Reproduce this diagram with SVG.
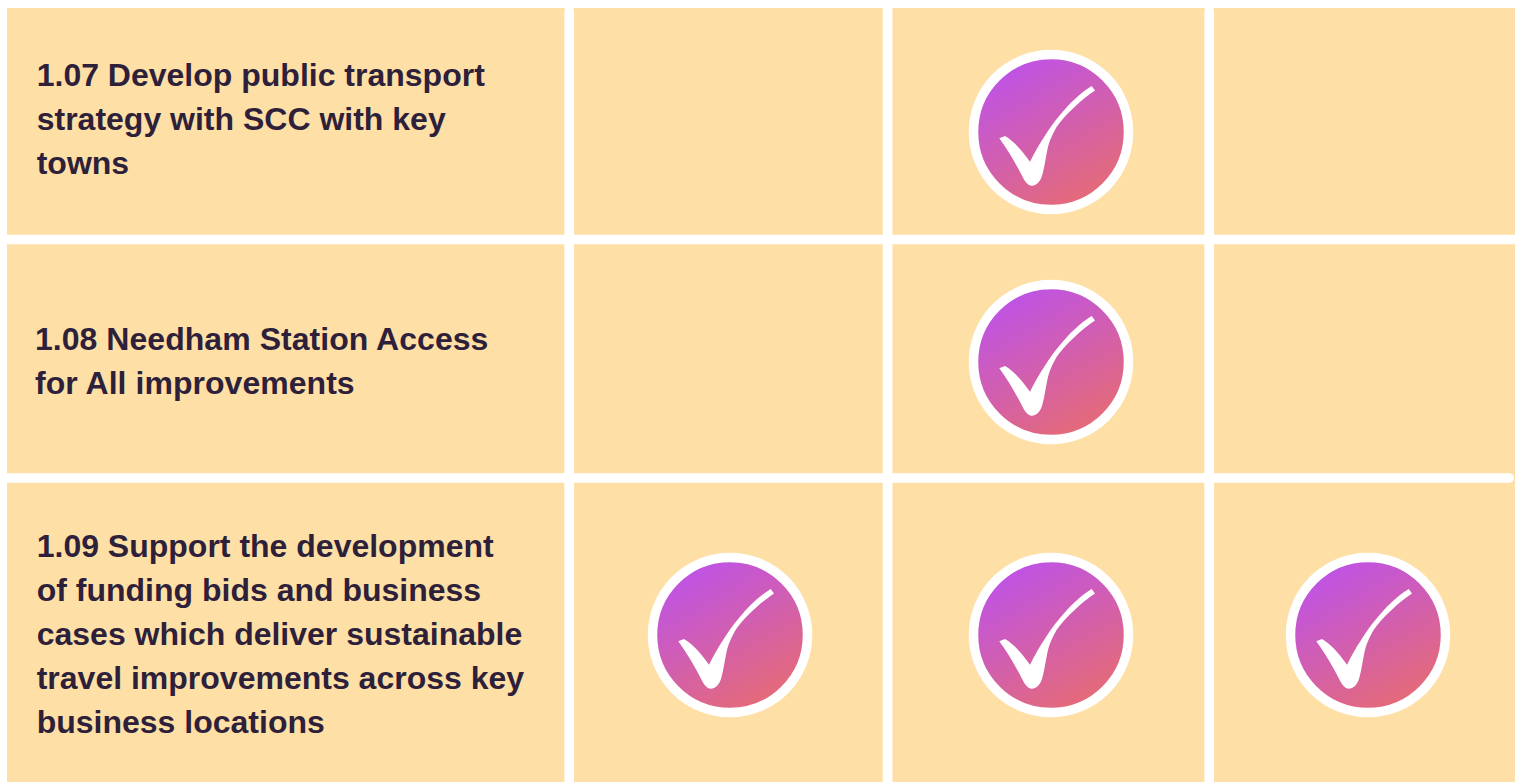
<svg xmlns="http://www.w3.org/2000/svg" width="1518" height="782" viewBox="0 0 1518 782">
<style>
.bg{fill:#fedfa6}
.line{stroke:#fff;stroke-width:9.7;fill:none}
.cap{stroke-linecap:round}
.label{font-family:"Liberation Sans",Arial,sans-serif;font-weight:700;font-size:32px;fill:#2e1f3a}
.ring{fill:url(#g);stroke:#fff;stroke-width:9.5}
.tick{fill:#fff}
</style>
<defs>
<linearGradient id="g" x1="0.2" y1="0.05" x2="0.75" y2="1">
<stop offset="0" stop-color="#bd52ea"/>
<stop offset="1" stop-color="#e76c70"/>
</linearGradient>
<g id="check">
<circle class="ring" cx="0" cy="0" r="77.500"/>
<path class="tick" d="M40.700,-46 L44,-41.500 C31,-33 14,-17 5.700,-5.300 C0,5 -2.500,11 -4.300,21.300 C-5.500,27 -6.500,35 -8.300,41.300 C-10,49 -14,53.700 -19.300,53.700 C-23,53.700 -25.500,50 -27.700,46.300 C-35,32 -43,18 -51.700,6.300 L-46,4 C-37,9 -28,20 -21,29.700 C-16,20 -12,13 -7.700,6.300 C-2,-3 3,-10 9,-17 C18,-28 28,-38 40.700,-46 Z"/>
</g>
</defs>
<rect id="table-bg" class="bg" x="7" y="8" width="1508" height="774"/>
<g id="connectors">
<line class="line cap" x1="569.200" y1="11" x2="569.200" y2="790"/>
<line class="line" x1="887.600" y1="0" x2="887.600" y2="790"/>
<line class="line cap" x1="1209.200" y1="11" x2="1209.200" y2="790"/>
<line class="line" x1="0" y1="239.500" x2="1530" y2="239.500"/>
<line class="line cap" x1="0" y1="478" x2="1509" y2="478"/>
</g>
<g id="row-107">
<text class="label"><tspan x="36.700" y="86">1.07 Develop public transport</tspan><tspan x="36.700" y="130">strategy with SCC with key</tspan><tspan x="36.700" y="174">towns</tspan></text>
<use href="#check" x="1051" y="132"/>
</g>
<g id="row-108">
<text class="label" style="letter-spacing:.04px"><tspan x="35" y="350">1.08 Needham Station Access</tspan><tspan x="35" y="394">for All improvements</tspan></text>
<use href="#check" x="1051" y="362"/>
</g>
<g id="row-109">
<text class="label"><tspan x="36.700" y="557">1.09 Support the development</tspan><tspan x="36.700" y="601">of funding bids and business</tspan><tspan x="36.700" y="645">cases which deliver sustainable</tspan><tspan x="36.700" y="689">travel improvements across key</tspan><tspan x="36.700" y="733">business locations</tspan></text>
<use href="#check" x="730" y="635"/>
<use href="#check" x="1051" y="635"/>
<use href="#check" x="1368" y="635"/>
</g>
</svg>
